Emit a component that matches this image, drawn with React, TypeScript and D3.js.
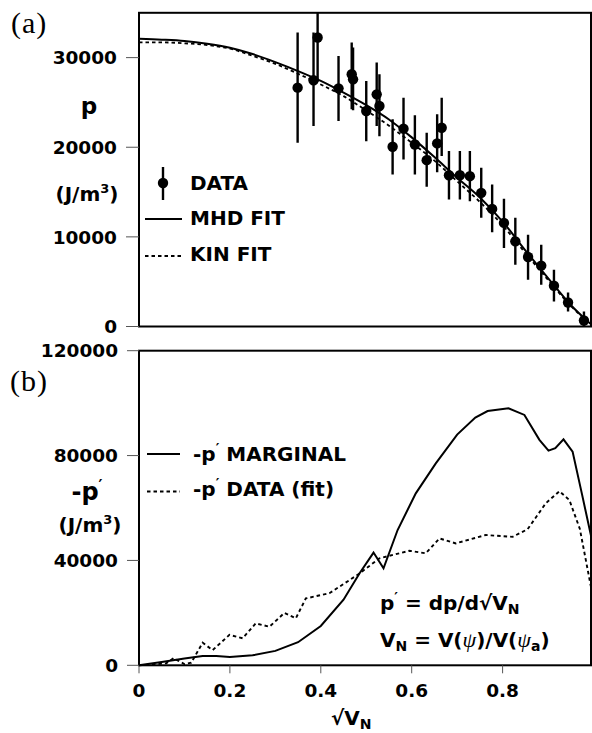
import React from 'react';
import * as d3 from 'd3';

// ---- Panel (a): pressure profile ----
const FIT_X = [0, 0.05, 0.1, 0.15, 0.2, 0.25, 0.3, 0.35, 0.4, 0.45, 0.5, 0.55, 0.6, 0.65, 0.7, 0.75, 0.8, 0.85, 0.9, 0.95, 1.0];
const MHD_FIT = [32100, 32000, 31850, 31550, 31100, 30400, 29500, 28500, 27400, 26100, 24700, 23100, 21100, 18900, 16600, 14400, 11700, 8500, 5400, 2400, 0];
const KIN_FIT = [31700, 31700, 31600, 31400, 31000, 30200, 29300, 28200, 27000, 25700, 24100, 22400, 20500, 18500, 16200, 13900, 11300, 8200, 5200, 2300, 0];

const DATA_X = [0.349, 0.384, 0.393, 0.439, 0.468, 0.471, 0.5, 0.523, 0.529, 0.558, 0.582, 0.607, 0.633, 0.656, 0.666, 0.682, 0.706, 0.728, 0.753, 0.777, 0.803, 0.828, 0.856, 0.885, 0.913, 0.944, 0.979];
const DATA_P = [26650, 27470, 32240, 26570, 28140, 27580, 24040, 25900, 24600, 20060, 22070, 20310, 18560, 20430, 22180, 16880, 16880, 16770, 14910, 13120, 11560, 9500, 7760, 6790, 4550, 2680, 670];
const DATA_HI = [32800, 32800, 35000, 30190, 31680, 31120, 27390, 29450, 28140, 23110, 25530, 23560, 21620, 23670, 25530, 19570, 19570, 19570, 17710, 15840, 14240, 12120, 10250, 9130, 6340, 3800, 1680];
const DATA_LO = [20500, 22360, 27300, 22920, 24230, 24120, 20680, 22360, 21240, 16960, 18640, 16960, 15600, 17200, 19010, 14170, 14170, 13970, 12120, 10510, 8770, 6900, 5220, 4660, 2800, 1680, 0];

// ---- Panel (b): -p' ----
const MARG_X = [0, 0.05, 0.1, 0.14, 0.17, 0.2, 0.25, 0.3, 0.35, 0.4, 0.45, 0.485, 0.516, 0.538, 0.569, 0.609, 0.653, 0.7, 0.74, 0.767, 0.813, 0.848, 0.881, 0.901, 0.916, 0.934, 0.954, 0.975, 0.995];
const MARG_Y = [0, 1300, 2600, 3500, 3500, 3200, 3800, 5500, 8800, 15000, 25000, 35000, 43000, 37000, 51600, 65600, 77000, 88000, 94500, 97000, 98000, 95500, 86000, 81900, 82800, 86200, 81500, 65000, 49000];
const PFIT_X = [0, 0.03, 0.06, 0.076, 0.1, 0.115, 0.14, 0.162, 0.199, 0.228, 0.257, 0.287, 0.32, 0.345, 0.367, 0.419, 0.45, 0.485, 0.529, 0.595, 0.631, 0.661, 0.697, 0.763, 0.822, 0.855, 0.895, 0.925, 0.947, 0.97, 0.995];
const PFIT_Y = [0, 300, 800, 2700, 500, 1000, 8600, 5800, 11600, 10300, 16000, 14700, 20000, 17900, 25500, 27500, 31000, 35000, 40800, 43700, 42700, 48400, 46500, 49700, 49000, 51900, 61800, 66400, 63000, 52000, 29400];

const P_TICKS = [0, 10000, 20000, 30000];
const DP_TICKS = [0, 40000, 80000, 120000];
const X_TICKS = [0, 0.2, 0.4, 0.6, 0.8];

const SANS = '"DejaVu Sans", Arial, sans-serif';
const SERIF = '"Liberation Serif", "Times New Roman", serif';

export default function App() {
  const x = d3.scaleLinear().domain([0, 1]).range([139, 593.5]);
  const yA = d3.scaleLinear().domain([0, 35000]).range([326.5, 12.8]);
  const yB = d3.scaleLinear().domain([0, 120000]).range([665.3, 350.7]);
  const xL = x(0);
  const xR = x(0.9945);

  const lineA = (xs: number[], ys: number[]) =>
    d3.line<number>().x((_, i) => x(xs[i])).y((d) => yA(d)).curve(d3.curveMonotoneX)(ys) || '';
  const lineB = (xs: number[], ys: number[]) =>
    d3.line<number>().x((_, i) => x(xs[i])).y((d) => yB(d))(ys) || '';
  const fmt = d3.format('d');

  const tickFont = { fontFamily: SANS, fontWeight: 700, fontSize: 18.5 } as const;
  const legFont = { fontFamily: SANS, fontWeight: 700, fontSize: 20 } as const;

  return (
    <svg width={592} height={733} style={{ position: 'absolute', left: 0, top: 0, background: '#fff' }}>
      <defs>
        <clipPath id="clipA">
          <rect x={xL} y={yA(35000)} width={xR - xL} height={yA(0) - yA(35000)} />
        </clipPath>
      </defs>

      {/* ---------- Panel (a) ---------- */}
      <text x={11} y={33} fontFamily={SERIF} fontSize={30} letterSpacing={1}>(a)</text>
      <rect x={xL} y={yA(35000)} width={xR - xL} height={yA(0) - yA(35000)} fill="none" stroke="#000" strokeWidth={2} />
      {P_TICKS.map((t) => (
        <g key={'pa' + t}>
          <line x1={xL - 13} x2={xL} y1={yA(t)} y2={yA(t)} stroke="#555" strokeWidth={1} />
          <text x={117} y={yA(t)} dy="0.36em" textAnchor="end" {...tickFont}>{fmt(t)}</text>
        </g>
      ))}
      <text x={89} y={114} textAnchor="middle" fontFamily={SANS} fontWeight={700} fontSize={23}>p</text>
      <text x={87} y={201} textAnchor="middle" {...legFont}>
        (J/m<tspan fontSize={13} dy={-8}>3</tspan><tspan dy={8}>)</tspan>
      </text>

      <g clipPath="url(#clipA)">
        <path d={lineA(FIT_X, KIN_FIT)} fill="none" stroke="#000" strokeWidth={1.8} strokeDasharray="3.5,3" />
        <path d={lineA(FIT_X, MHD_FIT)} fill="none" stroke="#000" strokeWidth={2} />
        {DATA_X.map((dx, i) => (
          <g key={'d' + i}>
            <line x1={x(dx)} x2={x(dx)} y1={yA(DATA_HI[i])} y2={yA(DATA_LO[i])} stroke="#000" strokeWidth={2.4} />
            <circle cx={x(dx)} cy={yA(DATA_P[i])} r={5.2} fill="#000" />
          </g>
        ))}
      </g>

      {/* legend (a) */}
      <line x1={163} x2={163} y1={167} y2={200} stroke="#000" strokeWidth={2.4} />
      <circle cx={163} cy={183} r={5.2} fill="#000" />
      <text x={190} y={190} {...legFont}>DATA</text>
      <line x1={145} x2={182} y1={219} y2={219} stroke="#000" strokeWidth={2} />
      <text x={190} y={225} {...legFont}>MHD FIT</text>
      <line x1={145} x2={182} y1={256} y2={256} stroke="#000" strokeWidth={1.8} strokeDasharray="3.5,3" />
      <text x={190} y={261} {...legFont}>KIN FIT</text>

      {/* ---------- Panel (b) ---------- */}
      <text x={10} y={391} fontFamily={SERIF} fontSize={30} letterSpacing={1}>(b)</text>
      <rect x={xL} y={yB(120000)} width={xR - xL} height={yB(0) - yB(120000)} fill="none" stroke="#000" strokeWidth={2} />
      {DP_TICKS.map((t) => (
        <g key={'pb' + t}>
          <line x1={xL - 12} x2={xL} y1={yB(t)} y2={yB(t)} stroke="#555" strokeWidth={1} />
          <text x={118} y={yB(t)} dy="0.36em" textAnchor="end" {...tickFont}>{fmt(t)}</text>
        </g>
      ))}
      {X_TICKS.map((t) => (
        <g key={'x' + t}>
          <line x1={x(t)} x2={x(t)} y1={yB(0)} y2={yB(0) + 8} stroke="#555" strokeWidth={1} />
          <text x={x(t)} y={697} textAnchor="middle" {...tickFont}>{t === 0 ? '0' : d3.format('.1f')(t)}</text>
        </g>
      ))}
      <text x={87} y={500} textAnchor="middle" fontFamily={SANS} fontWeight={700} fontSize={24}>
        -p<tspan fontSize={15} dy={-9}>′</tspan>
      </text>
      <text x={90} y={532} textAnchor="middle" {...legFont}>
        (J/m<tspan fontSize={13} dy={-8}>3</tspan><tspan dy={8}>)</tspan>
      </text>

      <path d={lineB(PFIT_X, PFIT_Y)} fill="none" stroke="#000" strokeWidth={1.9} strokeDasharray="3.5,3" />
      <path d={lineB(MARG_X, MARG_Y)} fill="none" stroke="#000" strokeWidth={2} />

      {/* legend (b) */}
      <line x1={147} x2={180} y1={454} y2={454} stroke="#000" strokeWidth={2} />
      <text x={193} y={460.5} {...legFont}>
        -p<tspan fontSize={14} dy={-8}>′</tspan><tspan dy={8}> MARGINAL</tspan>
      </text>
      <line x1={147} x2={180} y1={491.5} y2={491.5} stroke="#000" strokeWidth={1.8} strokeDasharray="3.5,3" />
      <text x={193} y={495.5} {...legFont}>
        -p<tspan fontSize={14} dy={-8}>′</tspan><tspan dy={8}> DATA (fit)</tspan>
      </text>

      {/* annotation */}
      <text x={380} y={610} {...legFont}>
        p<tspan fontSize={14} dy={-8}>′</tspan><tspan dy={8}> = dp/d√V</tspan><tspan fontSize={14} dy={4}>N</tspan>
      </text>
      <text x={380} y={647} {...legFont}>
        V<tspan fontSize={14} dy={4}>N</tspan><tspan dy={-4}> = V(</tspan><tspan fontFamily={SERIF} fontStyle="italic" fontWeight={400} fontSize={22}>ψ</tspan><tspan>)/V(</tspan><tspan fontFamily={SERIF} fontStyle="italic" fontWeight={400} fontSize={22}>ψ</tspan><tspan fontSize={14} dy={4}>a</tspan><tspan dy={-4}>)</tspan>
      </text>

      {/* x label */}
      <text x={331} y={725} {...legFont}>
        √V<tspan fontSize={14} dy={4}>N</tspan>
      </text>
    </svg>
  );
}
